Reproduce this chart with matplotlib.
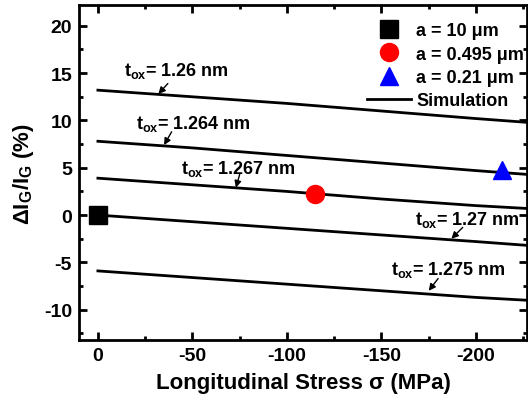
import numpy as np
import matplotlib.pyplot as plt
from matplotlib.ticker import MultipleLocator

# simulation curves, delta Ig/Ig (%) vs longitudinal stress (MPa)
stress = [0, -50, -100, -150, -200, -227]
tox_labels = ['1.26', '1.264', '1.267', '1.27', '1.275']
sim_curves = [
    [13.2, 12.5, 11.8, 11.0, 10.2, 9.8],
    [7.8, 7.1, 6.3, 5.5, 4.7, 4.3],
    [3.9, 3.2, 2.5, 1.7, 1.0, 0.7],
    [0.0, -0.7, -1.4, -2.1, -2.8, -3.2],
    [-5.9, -6.6, -7.3, -8.0, -8.7, -9.0],
]

# measured points
meas_x = [0, -115, -214]
meas_y = [0.0, 2.2, 4.8]
meas_labels = ['a = 10 \u03bcm', 'a = 0.495 \u03bcm', 'a = 0.21 \u03bcm']
meas_style = [('s', 'black'), ('o', 'red'), ('^', 'blue')]

# annotation text position and arrow (start -> end) in data coords
ann_text = [(-14, 15.3), (-20, 9.7), (-44, 5.0), (-168, -0.4), (-155, -5.7)]
ann_arrow = [((-37, 13.9), (-32, 12.8)),
             ((-39, 8.8), (-35, 7.4)),
             ((-75, 4.3), (-73, 2.9)),
             ((-193, -1.3), (-187, -2.5)),
             ((-180, -6.7), (-175, -8.0))]

plt.rcParams['font.family'] = ['Liberation Sans', 'DejaVu Sans']
plt.rcParams['font.weight'] = 'bold'
plt.rcParams['axes.unicode_minus'] = False
plt.rcParams['mathtext.fontset'] = 'custom'
plt.rcParams['mathtext.rm'] = 'Liberation Sans:bold'
plt.rcParams['mathtext.it'] = 'Liberation Sans:bold'
plt.rcParams['mathtext.bf'] = 'Liberation Sans:bold'

fig = plt.figure(figsize=(5.28, 4.02), dpi=100)
ax = fig.add_axes([79 / 528, 61 / 402, 448 / 528, 335 / 402])

for i, curve in enumerate(sim_curves):
    ax.plot(stress, curve, color='black', lw=2.0,
            label='Simulation' if i == 0 else None)

handles = []
for x, y, lab, (m, c) in zip(meas_x, meas_y, meas_labels, meas_style):
    h, = ax.plot(x, y, linestyle='none', marker=m, color=c, markersize=13,
                 label=lab, clip_on=False, zorder=5)
    handles.append(h)
sim_handle = ax.get_lines()[0]
handles.append(sim_handle)

for lab, (tx, ty), (start, end) in zip(tox_labels, ann_text, ann_arrow):
    ax.text(tx, ty, r'$\mathrm{t_{ox}}$= ' + lab + ' nm', fontsize=13,
            fontweight='bold', ha='left', va='center')
    ax.annotate('', xy=end, xytext=start,
                arrowprops=dict(arrowstyle='-|>', color='black', lw=1.0,
                                mutation_scale=10, shrinkA=0, shrinkB=0))

ax.set_xlim(10, -227)
ax.set_ylim(-13.2, 22.2)
ax.xaxis.set_major_locator(MultipleLocator(50))
ax.xaxis.set_minor_locator(MultipleLocator(25))
ax.yaxis.set_major_locator(MultipleLocator(5))
ax.yaxis.set_minor_locator(MultipleLocator(2.5))
ax.set_yticks([-10, -5, 0, 5, 10, 15, 20])
ax.tick_params(which='both', direction='in', top=True, right=True,
               width=2, labelsize=14)
ax.tick_params(which='major', length=6, pad=5)
ax.tick_params(which='minor', length=3)
for lbl in ax.get_xticklabels() + ax.get_yticklabels():
    lbl.set_fontweight('bold')
for sp in ax.spines.values():
    sp.set_linewidth(2)

ax.set_xlabel('Longitudinal Stress \u03c3 (MPa)', fontsize=16,
              fontweight='bold', labelpad=6)
ax.set_ylabel(r'$\mathrm{\Delta I_G/I_G}$ (%)', fontsize=16,
              fontweight='bold', labelpad=6)

ax.legend(handles=handles, loc='upper right', bbox_to_anchor=(1.0, 0.957),
          frameon=False, handlelength=2.4, handletextpad=0.3,
          labelspacing=0.35, borderaxespad=0.0, borderpad=0.17,
          prop={'weight': 'bold', 'size': 13})

fig.savefig('out.png', dpi=100)
